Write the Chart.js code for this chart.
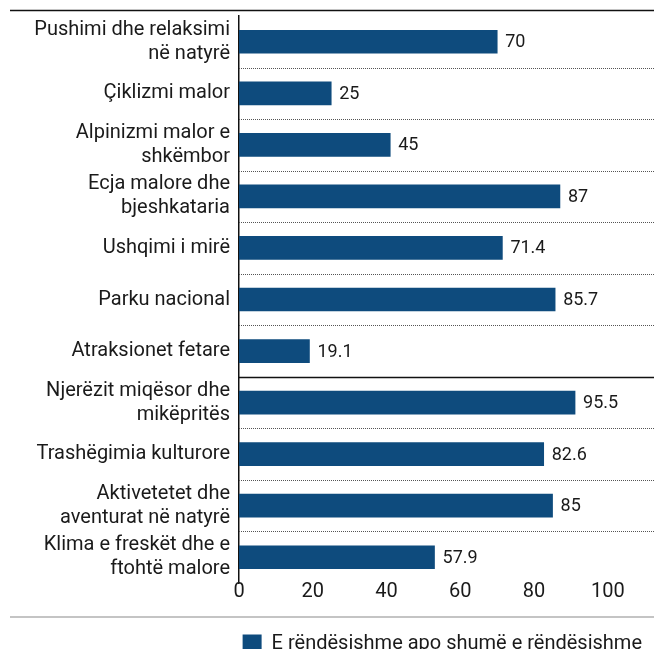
<!DOCTYPE html>
<html>
<head>
<meta charset="utf-8">
<script src="https://cdn.jsdelivr.net/npm/chart.js@4.4.0/dist/chart.umd.min.js"></script>
<style>
  html, body { margin: 0; padding: 0; background: #fff; overflow: hidden; }
  #wrap { position: relative; width: 654px; height: 649px; }
</style>
</head>
<body>
<div id="wrap"><canvas id="barChart"></canvas></div>
<script>
// categories (multi-line labels as in the picture)
const categories = [
    ['Pushimi dhe relaksimi', 'në natyrë'],
    'Çiklizmi malor',
    ['Alpinizmi malor e', 'shkëmbor'],
    ['Ecja malore dhe', 'bjeshkataria'],
    'Ushqimi i mirë',
    'Parku nacional',
    'Atraksionet fetare',
    ['Njerëzit miqësor dhe', 'mikëpritës'],
    'Trashëgimia kulturore',
    ['Aktivetetet dhe', 'aventurat në natyrë'],
    ['Klima e freskët dhe e', 'ftohtë malore']
];
// bar lengths as drawn in the picture
const barValues = [70, 25, 41, 87, 71.4, 85.7, 19.1, 91.1, 82.6, 85, 53];
// numbers printed next to the bars
const valueLabels = ['70', '25', '45', '87', '71.4', '85.7', '19.1', '95.5', '82.6', '85', '57.9'];
const xTicks = [0, 20, 40, 60, 80, 100];
const seriesName = 'E rëndësishme apo shumë e rëndësishme';
const groupBreakAfter = 6; // solid line after "Atraksionet fetare"

const barColor = '#0e4b7d';
const textColor = '#1a1a1a';
const fontFamily = 'Roboto, "Noto Sans", sans-serif';

// row separators, x tick labels, value labels and the rules above / below the chart
const extrasPlugin = {
    id: 'extras',
    beforeDatasetsDraw(chart) {
        const ctx = chart.ctx;
        const y = chart.scales.y;
        const area = chart.chartArea;
        ctx.save();
        for (let i = 0; i < categories.length - 1; i++) {
            const py = Math.round((y.getPixelForValue(i) + y.getPixelForValue(i + 1)) / 2) + 0.5;
            ctx.beginPath();
            if (i === groupBreakAfter) {
                ctx.setLineDash([]);
                ctx.strokeStyle = '#111';
                ctx.lineWidth = 1.5;
            } else {
                ctx.setLineDash([1, 1]);
                ctx.strokeStyle = '#555';
                ctx.lineWidth = 1;
            }
            ctx.moveTo(area.left, py);
            ctx.lineTo(area.right, py);
            ctx.stroke();
        }
        ctx.restore();
    },
    afterDraw(chart) {
        const ctx = chart.ctx;
        const meta = chart.getDatasetMeta(0);
        const x = chart.scales.x;
        ctx.save();
        ctx.fillStyle = textColor;
        ctx.textBaseline = 'middle';

        // x tick labels
        ctx.font = '20px ' + fontFamily;
        ctx.textAlign = 'center';
        xTicks.forEach(v => {
            ctx.fillText(String(v), x.getPixelForValue(v), chart.chartArea.bottom + 9);
        });

        // numbers next to the bars
        ctx.font = '18px ' + fontFamily;
        ctx.textAlign = 'left';
        meta.data.forEach((bar, i) => {
            ctx.fillText(valueLabels[i], bar.x + 8, bar.y + 1);
        });

        // top rule
        ctx.strokeStyle = '#111';
        ctx.lineWidth = 1.5;
        ctx.beginPath();
        ctx.moveTo(10, 10.5);
        ctx.lineTo(chart.width, 10.5);
        ctx.stroke();
        // grey rule above legend
        ctx.strokeStyle = '#c4c4c4';
        ctx.lineWidth = 2;
        ctx.beginPath();
        ctx.moveTo(10, 617);
        ctx.lineTo(chart.width, 617);
        ctx.stroke();
        ctx.restore();
    }
};

const ctx = document.getElementById('barChart').getContext('2d');
const barChart = new Chart(ctx, {
    type: 'bar',
    data: {
        labels: categories,
        datasets: [{
            label: seriesName,
            data: barValues,
            backgroundColor: barColor,
            borderWidth: 0,
            barThickness: 23
        }]
    },
    options: {
        indexAxis: 'y',
        animation: false,
        responsive: true,
        maintainAspectRatio: false,
        layout: {
            padding: { top: 16, right: 0, left: 0, bottom: -15 }
        },
        scales: {
            x: {
                min: 0,
                max: 112.5,
                grid: { display: false, drawTicks: false },
                border: { display: false },
                ticks: { display: false },
                afterFit: (scale) => {
                    scale.paddingLeft = 0;
                    scale.paddingRight = 0;
                    scale.height = 39; // room for the tick labels drawn in the plugin
                }
            },
            y: {
                grid: { display: false, drawTicks: false },
                border: { display: true, color: '#111', width: 1.5 },
                ticks: {
                    autoSkip: false,
                    padding: 9,
                    color: textColor,
                    font: { family: fontFamily, size: 20 }
                },
                afterFit: (scale) => {
                    scale.width = 239;
                    scale.paddingTop = 0;
                    scale.paddingBottom = 0;
                }
            }
        },
        plugins: {
            tooltip: { enabled: false },
            legend: {
                position: 'bottom',
                align: 'end',
                labels: {
                    boxWidth: 19,
                    boxHeight: 19,
                    padding: 12,
                    color: textColor,
                    font: { family: fontFamily, size: 20 }
                }
            }
        }
    },
    plugins: [extrasPlugin]
});
</script>
</body>
</html>
